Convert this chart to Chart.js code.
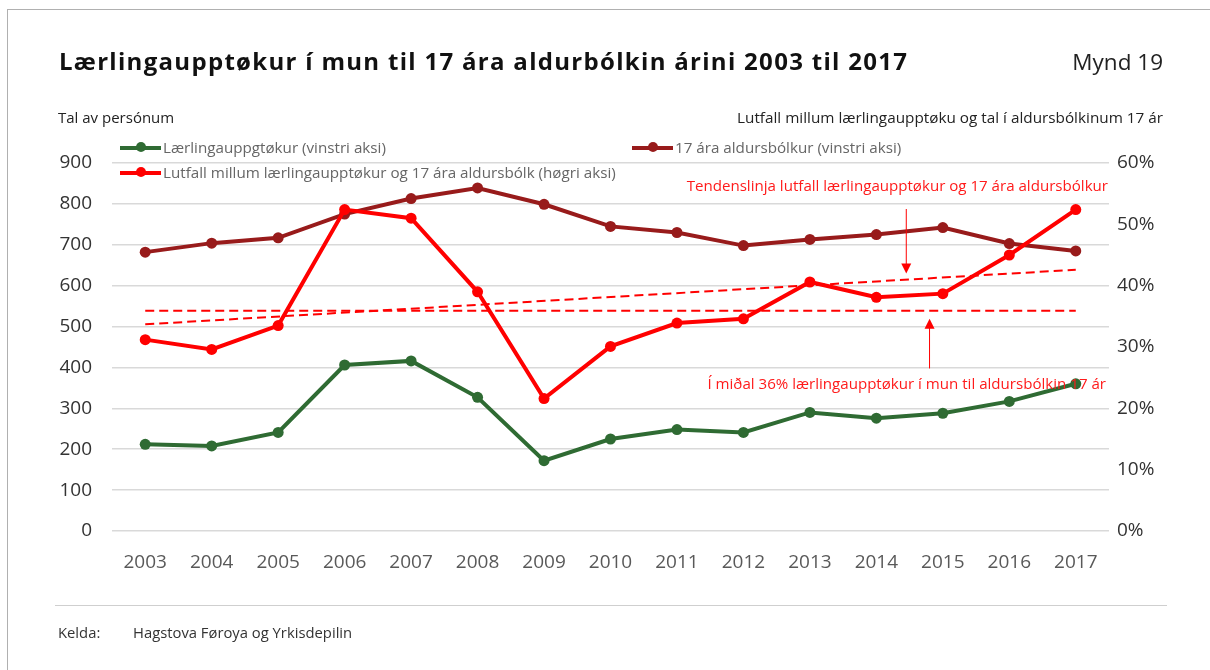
<!DOCTYPE html>
<html>
<head>
<meta charset="utf-8">
<script src="https://cdn.jsdelivr.net/npm/chart.js@4"></script>
<style>
  html, body { margin: 0; padding: 0; background: #fff; }
  body { width: 1210px; height: 670px; position: relative; overflow: hidden; font-family: "Open Sans", sans-serif; }
  #frame { position: absolute; left: 7px; top: 9px; width: 1300px; height: 800px; border-left: 1px solid #b0b0b0; border-top: 1px solid #b0b0b0; }
  #wrap { position: absolute; left: 0; top: 0; width: 1210px; height: 670px; }
  .txt { position: absolute; white-space: nowrap; }
  #title { left: 59px; top: 44px; font-size: 24px; letter-spacing: 1.3px; font-weight: bold; color: #111; }
  #fig { right: 47px; top: 46px; font-size: 22.5px; color: #222; }
  #ltitle { left: 58px; top: 107px; font-size: 15px; color: #222; }
  #rtitle { right: 47px; top: 107px; font-size: 15.3px; color: #222; }
  .leg { position: absolute; font-size: 15.2px; color: #666; white-space: nowrap; }
  .leg .mk { display: inline-block; position: relative; width: 41px; height: 4px; vertical-align: middle; margin-right: 2px; top: -1px; }
  .leg .mk i { position: absolute; left: 16px; top: -3.5px; width: 10px; height: 10px; border-radius: 50%; background: inherit; }
  .note { position: absolute; font-size: 15.1px; color: #ff1a1a; white-space: nowrap; }
  #rule { position: absolute; left: 55px; top: 605px; width: 1112px; height: 1px; background: #cfcfcf; }
  .foot { position: absolute; top: 622px; font-size: 14.8px; color: #333; }
</style>
</head>
<body>
<div id="frame"></div>
<div id="wrap"><canvas id="c" width="1210" height="670"></canvas></div>
<div class="txt" id="title">Lærlingaupptøkur í mun til 17 ára aldurbólkin árini 2003 til 2017</div>
<div class="txt" id="fig">Mynd 19</div>
<div class="txt" id="ltitle">Tal av persónum</div>
<div class="txt" id="rtitle">Lutfall millum lærlingaupptøku og tal í aldursbólkinum 17 ár</div>
<div class="leg" style="left:120px; top:137px;"><span class="mk" style="background:#2f6b33"><i></i></span>Lærlingauppgtøkur (vinstri aksi)</div>
<div class="leg" style="left:632px; top:137px;"><span class="mk" style="background:#981b1b"><i></i></span>17 ára aldursbólkur (vinstri aksi)</div>
<div class="leg" style="left:120px; top:162px;"><span class="mk" style="background:#ff0000"><i></i></span>Lutfall millum lærlingaupptøkur og 17 ára aldursbólk (høgri aksi)</div>
<div class="note" style="right:102px; top:175px;">Tendenslinja lutfall lærlingaupptøkur og 17 ára aldursbólkur</div>
<div class="note" style="right:104px; top:373px;">Í miðal 36% lærlingaupptøkur í mun til aldursbólkin 17 ár</div>
<div id="rule"></div>
<div class="foot" style="left:58px;">Kelda:</div>
<div class="foot" style="left:133px;">Hagstova Føroya og Yrkisdepilin</div>
<script>
(function () {
'use strict';
// values
const years = ['2003','2004','2005','2006','2007','2008','2009','2010','2011','2012','2013','2014','2015','2016','2017'];
const apprentices = [212, 208, 241, 406, 416, 327, 172, 225, 248, 241, 290, 276, 288, 317, 360];
const age17 = [682, 704, 717, 775, 813, 839, 799, 745, 730, 698, 713, 725, 742, 703, 685];
const ratioPct = [31.2, 29.6, 33.5, 52.4, 51.0, 39.0, 21.6, 30.1, 33.9, 34.6, 40.6, 38.1, 38.7, 45.0, 52.4];
// trend line and average: only the two end values are read, the rest is spanned
const trendPct = [33.7, null, null, null, null, null, null, null, null, null, null, null, null, null, 42.6];
const avgPct = [35.9, null, null, null, null, null, null, null, null, null, null, null, null, null, 35.9];
// arrows: [x index, from %, to %]
const arrows = [[11.45, 52.5, 42.0], [11.8, 26.5, 34.6]];

const GREEN = '#2f6b33', DARKRED = '#981b1b', RED = '#ff0000';

const arrowPlugin = {
    id: 'arrows',
    afterDatasetsDraw(chart) {
        const ctx = chart.ctx, xs = chart.scales.x, ys = chart.scales.y1;
        ctx.save();
        ctx.strokeStyle = RED; ctx.fillStyle = RED; ctx.lineWidth = 1;
        arrows.forEach(a => {
            const x = xs.getPixelForValue(a[0]);
            const y0 = ys.getPixelForValue(a[1]), y1 = ys.getPixelForValue(a[2]);
            const dir = y1 > y0 ? 1 : -1;
            ctx.beginPath(); ctx.moveTo(x, y0); ctx.lineTo(x, y1 - dir * 8); ctx.stroke();
            ctx.beginPath(); ctx.moveTo(x, y1); ctx.lineTo(x - 5, y1 - dir * 10); ctx.lineTo(x + 5, y1 - dir * 10); ctx.closePath(); ctx.fill();
        });
        ctx.restore();
    }
};

function lineDs(data, color, axis, order) {
    return { data, borderColor: color, backgroundColor: color, borderWidth: 4, pointRadius: 5.5,
        pointBorderWidth: 0, yAxisID: axis, order, tension: 0 };
}

new Chart(document.getElementById('c'), {
    type: 'line',
    data: {
        labels: years,
        datasets: [
            lineDs(ratioPct, RED, 'y1', 0),
            lineDs(age17, DARKRED, 'y', 1),
            lineDs(apprentices, GREEN, 'y', 2),
            { data: trendPct, borderColor: RED, borderWidth: 2, borderDash: [9, 5], pointRadius: 0, spanGaps: true, yAxisID: 'y1', order: 3 },
            { data: avgPct, borderColor: RED, borderWidth: 2, borderDash: [9, 5], pointRadius: 0, spanGaps: true, yAxisID: 'y1', order: 3 }
        ]
    },
    options: {
        responsive: false, animation: false,
        layout: { padding: { top: 163, left: 0, right: 0, bottom: 0 } },
        plugins: { legend: { display: false }, tooltip: { enabled: false } },
        scales: {
            x: {
                offset: true,
                grid: { display: false, drawTicks: false }, border: { display: false },
                ticks: { padding: 20, color: '#595959', font: { family: 'Open Sans', size: 19 } },
                afterFit(s) { s.height = 139; }
            },
            y: {
                position: 'left', min: 0, max: 900,
                grid: { color: '#d9d9d9', lineWidth: 1.5, drawTicks: false }, border: { display: false },
                ticks: { stepSize: 100, padding: 20, color: '#333', font: { family: 'Open Sans', size: 19 } },
                afterFit(s) { s.width = 112; }
            },
            y1: {
                position: 'right', min: 0, max: 60,
                grid: { display: false, drawTicks: false }, border: { display: false },
                ticks: { stepSize: 10, padding: 8, color: '#333', font: { family: 'Open Sans', size: 19 }, callback: v => v + '%' },
                afterFit(s) { s.width = 101; }
            }
        }
    },
    plugins: [arrowPlugin]
});
})();
</script>
</body>
</html>
